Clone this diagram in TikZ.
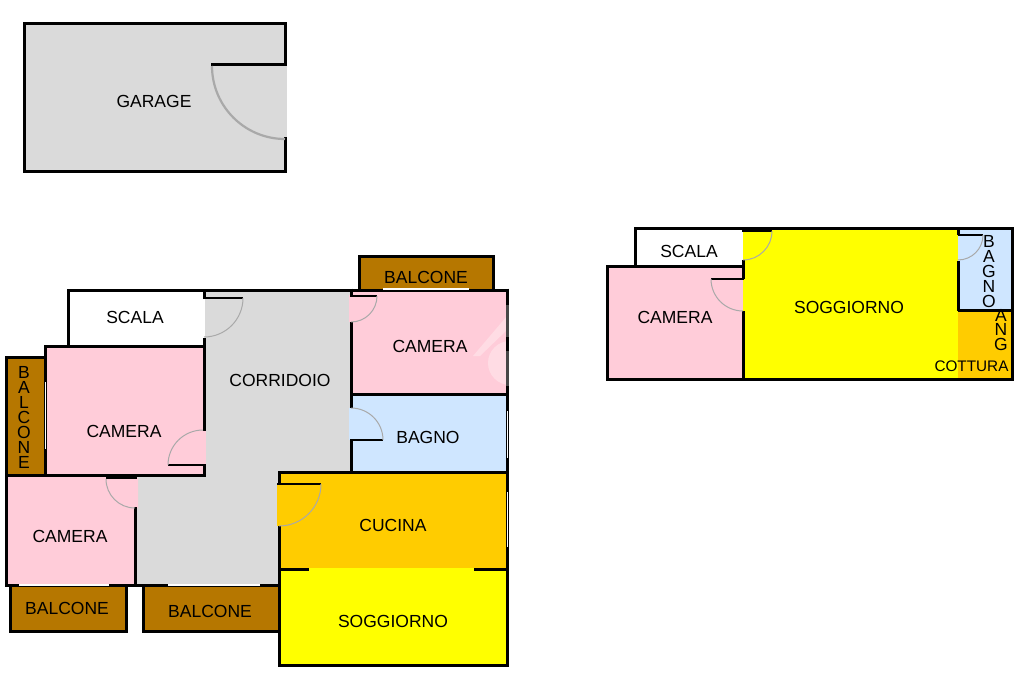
\documentclass[tikz,border=0pt]{standalone}
\usepackage{fontspec}
\setmainfont{Liberation Sans}
\definecolor{pinkroom}{HTML}{FFCCD9}
\definecolor{pinklight}{HTML}{FFDCE4}
\definecolor{grayroom}{HTML}{DADADA}
\definecolor{blueroom}{HTML}{CFE6FF}
\definecolor{orangeroom}{HTML}{FFCC00}
\definecolor{yellowroom}{HTML}{FFFF00}
\definecolor{brownroom}{HTML}{B67700}
\definecolor{doorarc}{HTML}{A9A9A9}
\tikzset{
  wall/.style={draw=black,line width=3pt,line cap=butt,line join=miter},
  panel/.style={draw=black,line width=2pt},
  swing/.style={draw=doorarc,line width=1pt},
  swingthick/.style={draw=doorarc,line width=2.2pt},
  gap/.style={draw=white,line width=1.2pt},
  label/.style={text=black,font=\fontsize{17.5}{15}\selectfont,inner sep=0pt},
  vlabel/.style={label,align=center},
}
\begin{document}
\begin{tikzpicture}[x=1pt,y=-1pt]
\useasboundingbox (0,0) rectangle (1024,682);
\fill[white] (0,0) rectangle (1024,682);
% ---------- fills
\fill[grayroom] (24,24) rectangle (287,171);
\fill[white] (287,24) rectangle (290,62);
\fill[white] (287,139) rectangle (290,171);
\fill[white] (68,290) rectangle (205,346);
\fill[grayroom] (205,290) -- (352,290) -- (352,473) -- (279,473) -- (279,585) -- (136,585) -- (136,476) -- (205,476) -- cycle;
\fill[pinkroom] (46,347) rectangle (205,474);
\fill[pinkroom] (6,476) rectangle (136,585);
\fill[pinkroom] (138,478) -- (106,478) arc[start angle=180,end angle=90,radius=30] -- (138,508) -- cycle;
\fill[pinkroom] (351,290) rectangle (507,394);
\fill[pinkroom] (349,295) rectangle (352,322);
\begin{scope}
\clip (352,290) rectangle (506,394);
\fill[pinklight] (473,356) -- (507,316) -- (507,330) -- (480,356) -- cycle;
\fill[pinklight] (510,363) circle[radius=22];
\end{scope}
\fill[blueroom] (351,394) rectangle (507,472);
\fill[blueroom] (349,408) rectangle (352,440);
\fill[orangeroom] (279,472) rectangle (507,568);
\fill[orangeroom] (277,484) rectangle (280,526);
\fill[yellowroom] (279,568) rectangle (508,665);
\fill[brownroom] (359,255) rectangle (493,289);
\fill[brownroom] (6,357) rectangle (46,475);
\fill[brownroom] (10,585) rectangle (126,632);
\fill[brownroom] (143,585) rectangle (279,632);
% upper right unit
\fill[white] (635,228) rectangle (743,266);
\fill[pinkroom] (607,266) rectangle (743,379);
\fill[yellowroom] (743,228) rectangle (958,379);
\fill[blueroom] (958,228) rectangle (1012,310);
\fill[orangeroom] (958,310) rectangle (1012,379);
% ---------- garage
\draw[wall] (285,64) -- (285,23.5) -- (24,23.5) -- (24,171) -- (285,171) -- (285,137);
\draw[wall] (211,64.5) -- (286.5,64.5);
\draw[swingthick] (212,66) arc[start angle=180,end angle=90,radius=73];
% ---------- main flat walls
\draw[wall] (204,338) -- (204,475.5) -- (6,475.5);
\draw[wall] (45.5,475) -- (45.5,346.5) -- (205.5,346.5);
\draw[wall] (68,346) -- (68,290) -- (507,290);
\draw[wall] (204,290) -- (204,298);
\draw[panel] (203,298) -- (243,298);
\draw[swing] (243,298) arc[start angle=0,end angle=90,radius=39];
\draw[panel] (168,465) -- (204,465);
\draw[swing] (168,465) arc[start angle=180,end angle=270,radius=35];
\fill[pinkroom] (202.5,431) rectangle (205.6,464);
% balcony left
\draw[wall] (45.5,357.5) -- (6.5,357.5) -- (6.5,476);
\draw[gap] (45.5,382) -- (45.5,449);
% lower camera
\draw[wall] (6,475.5) -- (6,585) -- (135,585) -- (135,507);
\draw[black,line width=5pt] (105.5,476.5) -- (136.5,476.5);
\draw[swing] (106,479) arc[start angle=180,end angle=90,radius=29];
% balconies below
\draw[wall] (10,585) -- (10,631.5) -- (126,631.5) -- (126,585);
\draw[wall] (143.5,585) -- (143.5,631.5) -- (279,631.5);
\draw[wall] (135,585) -- (279,585);
\draw[gap] (19,585) -- (109,585);
\draw[gap] (168,585) -- (260,585);
% right rooms
\draw[wall] (359.5,290) -- (359.5,256) -- (493,256) -- (493,290);
\draw[gap] (383,289) -- (469,289);
\draw[wall] (351.5,288.5) -- (351.5,295);
\draw[wall] (351.5,322) -- (351.5,408);
\draw[wall] (351.5,440) -- (351.5,473);
\draw[panel] (350,295.5) -- (377,295.5);
\draw[swing] (377,296) arc[start angle=0,end angle=90,radius=26];
\draw[panel] (350,440) -- (383,440);
\draw[swing] (383,440) arc[start angle=0,end angle=-90,radius=32];
\draw[wall] (351,394) -- (507,394);
\draw[wall] (507,288.5) -- (507,472);
\draw[wall,draw=black!72] (507,305) -- (507,337);
\draw[wall,draw=black!72] (507,351) -- (507,386);
\draw[gap] (507.5,411) -- (507.5,458);
% kitchen and living
\draw[wall] (279.5,484) -- (279.5,472.5) -- (507.5,472.5) -- (507.5,665) -- (279.5,665) -- (279.5,526);
\draw[gap] (507.5,492) -- (507.5,547);
\draw[panel] (277,484) -- (321,484);
\draw[swing] (321,484) arc[start angle=0,end angle=90,radius=42];
\draw[wall] (279,569) -- (309,569);
\draw[wall] (474,569) -- (508,569);
% ---------- upper right unit walls
\draw[wall] (743,228.5) -- (635.5,228.5) -- (635.5,266);
\draw[wall] (743,228.5) -- (1012,228.5) -- (1012,379) -- (607.5,379) -- (607.5,266.5) -- (744,266.5);
\draw[wall] (743.5,260) -- (743.5,279);
\draw[wall] (743.5,311) -- (743.5,379);
\draw[panel] (742,230.5) -- (772,230.5);
\draw[swing] (772,231) arc[start angle=0,end angle=90,radius=29];
\draw[panel] (711,279) -- (744,279);
\draw[swing] (711,279) arc[start angle=180,end angle=90,radius=32];
\draw[wall] (958,227) -- (958,235);
\draw[wall] (958,261) -- (958,311);
\draw[wall] (958,310) -- (1012,310);
\draw[panel] (958,235) -- (983,235);
\draw[swing] (983,235) arc[start angle=0,end angle=90,radius=25];
% ---------- labels
\node[label] (garage) at (154,101) {GARAGE};
\node[label] (scalaA) at (135,317) {SCALA};
\node[label] (corridoio) at (280,380) {CORRIDOIO};
\node[label] (cameraA) at (124,431) {CAMERA};
\node[label] (cameraB) at (70,536) {CAMERA};
\node[label] (cameraC) at (430,346) {CAMERA};
\node[label] (balconeA) at (426,277) {BALCONE};
\node[label] (balconeB) at (67,608) {BALCONE};
\node[label] (balconeC) at (210,611) {BALCONE};
\node[label] (bagnoA) at (428,437) {BAGNO};
\node[label] (cucina) at (393,525) {CUCINA};
\node[label] (soggiornoA) at (393,621) {SOGGIORNO};
\node[vlabel] (balconeD) at (24,417) {B\\A\\L\\C\\O\\N\\E};
\node[label] (scalaB) at (689,251) {SCALA};
\node[label] (cameraD) at (675,317) {CAMERA};
\node[label] (soggiornoB) at (849,307) {SOGGIORNO};
\node[vlabel] (bagnoB) at (989,272) {B\\A\\G\\N\\O};
\node[vlabel,font=\fontsize{17.5}{14.5}\selectfont] (ang) at (1001,330) {A\\N\\G};
\node[label,font=\fontsize{15.3}{15}\selectfont] (cottura) at (971.5,366) {COTTURA};
\end{tikzpicture}
\end{document}
